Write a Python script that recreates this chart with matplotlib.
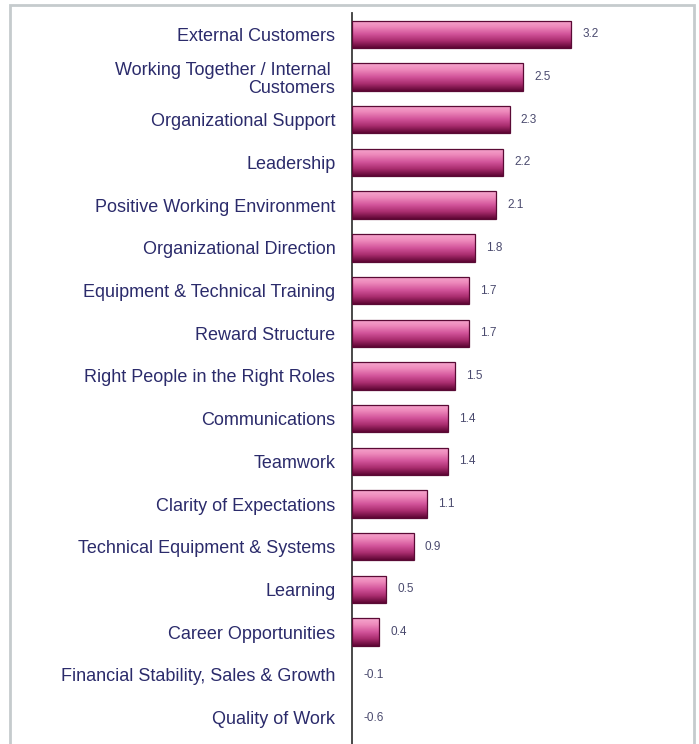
import numpy as np
import matplotlib
matplotlib.use("Agg")
import matplotlib.pyplot as plt
from matplotlib.colors import LinearSegmentedColormap
from matplotlib.patches import Rectangle

categories = [
    "External Customers",
    "Working Together / Internal \nCustomers",
    "Organizational Support",
    "Leadership",
    "Positive Working Environment",
    "Organizational Direction",
    "Equipment & Technical Training",
    "Reward Structure",
    "Right People in the Right Roles",
    "Communications",
    "Teamwork",
    "Clarity of Expectations",
    "Technical Equipment & Systems",
    "Learning",
    "Career Opportunities",
    "Financial Stability, Sales & Growth",
    "Quality of Work",
]
values = [3.2, 2.5, 2.3, 2.2, 2.1, 1.8, 1.7, 1.7, 1.5, 1.4, 1.4, 1.1, 0.9, 0.5, 0.4, -0.1, -0.6]
value_labels = ["3.2", "2.5", "2.3", "2.2", "2.1", "1.8", "1.7", "1.7", "1.5", "1.4",
                "1.4", "1.1", "0.9", "0.5", "0.4", "-0.1", "-0.6"]

plt.rcParams["font.family"] = ["Liberation Sans", "DejaVu Sans"]

W, H = 699, 744
fig = plt.figure(figsize=(W / 100, H / 100), dpi=100)
fig.patch.set_facecolor("white")

# outer frame (open at the bottom, as in the cropped original)
frame = Rectangle((10 / W, -0.05), (694 - 10) / W, (H - 5) / H + 0.05,
                  transform=fig.transFigure, fill=False,
                  edgecolor="#c5cbcd", linewidth=2.0)
fig.add_artist(frame)

ax = fig.add_axes([352 / W, 0.0, (688 - 352) / W, (H - 13) / H])
ax.set_facecolor("none")

y = np.arange(len(categories))
bar_h = 0.64
bars = ax.barh(y, values, height=bar_h, color="none",
               edgecolor="#5a0a35", linewidth=0.9, zorder=3)

# vertical gradient fill for each bar
cmap = LinearSegmentedColormap.from_list(
    "bar", ["#f7a8cf", "#ec86b9", "#d2539a", "#a82c6d", "#5e0634"])
grad = np.linspace(0, 1, 64).reshape(-1, 1)
for b, v in zip(bars, values):
    if v <= 0:
        b.set_visible(False)
        continue
    x0, y0 = b.get_x(), b.get_y()
    im = ax.imshow(grad, cmap=cmap, aspect="auto", zorder=2,
                   extent=[x0, x0 + b.get_width(), y0 + b.get_height(), y0],
                   interpolation="bilinear")
    im.set_clip_path(b)
ax.set_xlim(0, 4.9)
ax.set_ylim(16.62, -0.5)

for yi, v, lab in zip(y, values, value_labels):
    ax.annotate(lab, xy=(max(v, 0), yi), xytext=(8, 0),
                textcoords="offset points", va="center", ha="left",
                fontsize=8.5, color="#4a4a6e")

ax.set_yticks(y)
ax.set_yticklabels(categories, fontsize=13, color="#2b2b6b",
                   linespacing=1.08)
ax.set_xticks([])
ax.tick_params(axis="y", length=0, pad=12)
for s in ["top", "right", "bottom"]:
    ax.spines[s].set_visible(False)
ax.spines["left"].set_color("#3a3a3a")
ax.spines["left"].set_linewidth(1.3)

fig.savefig("out.png", dpi=100)
